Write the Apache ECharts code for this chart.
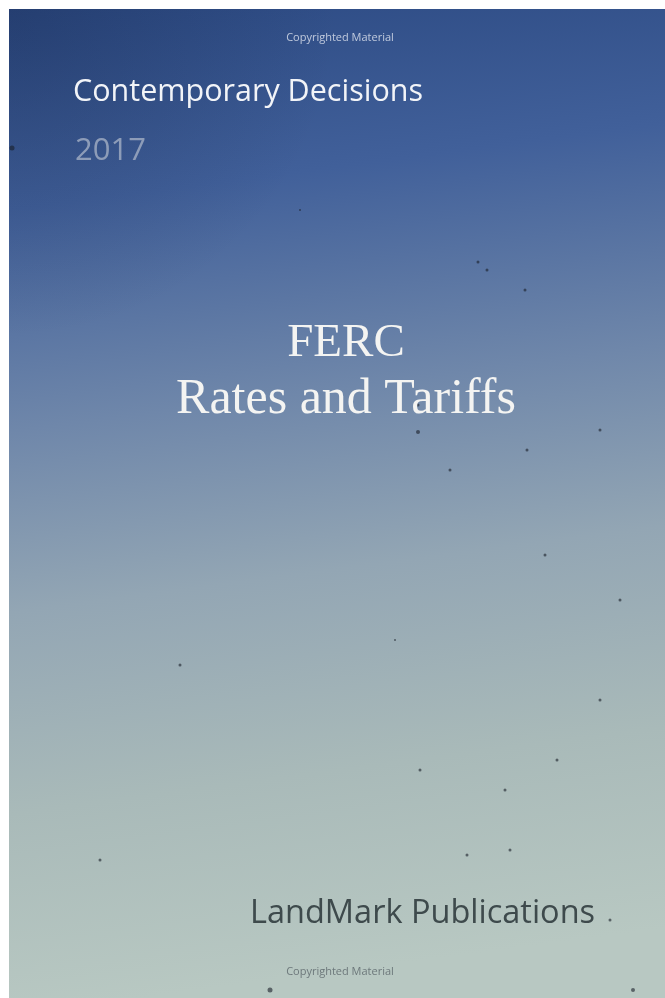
<!DOCTYPE html>
<html>
<head>
<meta charset="utf-8">
<script src="https://cdn.jsdelivr.net/npm/echarts@6/dist/echarts.min.js"></script>
<style>
  html, body { margin: 0; padding: 0; background: #fff; }
  #chart { width: 665px; height: 998px; }
</style>
</head>
<body>
<div id="chart"></div>
<script>
// cover texts
const seriesTitle = 'Contemporary Decisions'
const seriesYear = '2017'
const titleLines = ['FERC', 'Rates and Tariffs']
const publisher = 'LandMark Publications'
const watermark = 'Copyrighted Material'

// dark specks on the paper (x, y in page pixels, size)
const speckX = [418, 487, 525, 478, 600, 418, 450, 527, 620, 600, 557, 505, 467, 420, 270, 633, 510, 100, 180, 610, 12, 300, 545, 395]
const speckY = [432, 270, 290, 262, 430, 405, 470, 450, 600, 700, 760, 790, 855, 770, 990, 990, 850, 860, 665, 920, 148, 210, 555, 640]
const speckSize = [4, 3, 3, 3, 3, 3, 3, 3, 3, 3, 3, 3, 3, 3, 5, 4, 3, 3, 3, 3, 5, 2, 3, 2]

const chart = echarts.init(document.getElementById('chart'))

const option = {
  animation: false,
  grid: { left: 0, right: 0, top: 0, bottom: 0 },
  xAxis: { type: 'value', min: 0, max: 665, show: false },
  yAxis: { type: 'value', min: 0, max: 998, inverse: true, show: false },
  graphic: [
    {
      type: 'rect', z: -10,
      shape: { x: 9, y: 9, width: 656, height: 989 },
      style: {
        fill: new echarts.graphic.LinearGradient(0, 0, 0.2, 1, [
          { offset: 0, color: '#2c4a83' },
          { offset: 0.2, color: '#41609a' },
          { offset: 0.42, color: '#6f87aa' },
          { offset: 0.6, color: '#93a6b4' },
          { offset: 0.8, color: '#a9bab9' },
          { offset: 1, color: '#b8c8c2' }
        ])
      }
    },
    {
      type: 'rect', z: -9,
      shape: { x: 9, y: 9, width: 656, height: 989 },
      style: {
        fill: new echarts.graphic.RadialGradient(0, 0, 0.5, [
          { offset: 0, color: 'rgba(20,35,70,0.3)' },
          { offset: 1, color: 'rgba(20,35,70,0)' }
        ])
      }
    },
    {
      type: 'text', z: 100, x: 340, y: 32,
      style: { text: watermark, font: '11px "Open Sans"', fill: 'rgba(225,230,240,0.8)', align: 'center' }
    },
    {
      type: 'text', z: 100, x: 73, y: 77,
      style: { text: seriesTitle, font: '30.5px "Open Sans"', fill: '#f2f4f8' }
    },
    {
      type: 'text', z: 100, x: 75, y: 136,
      style: { text: seriesYear, font: '31px "Open Sans"', fill: '#8d9cb8' }
    },
    {
      type: 'text', z: 100, x: 346, y: 320,
      style: { text: titleLines[0], font: '47px "Liberation Serif"', fill: '#f4f4f2', align: 'center' }
    },
    {
      type: 'text', z: 100, x: 346, y: 375,
      style: { text: titleLines[1], font: '50px "Liberation Serif"', fill: '#f4f4f2', align: 'center' }
    },
    {
      type: 'text', z: 100, x: 250, y: 897,
      style: { text: publisher, font: '32.5px "Open Sans"', fill: '#3e4a4c' }
    },
    {
      type: 'text', z: 100, x: 340, y: 966,
      style: { text: watermark, font: '11px "Open Sans"', fill: 'rgba(90,100,105,0.8)', align: 'center' }
    }
  ],
  series: [{
    type: 'scatter',
    symbol: 'circle',
    silent: true,
    data: speckX.map((x, i) => [x, speckY[i], speckSize[i]]),
    symbolSize: d => d[2],
    itemStyle: { color: 'rgba(25,30,40,0.75)' }
  }]
}

chart.setOption(option)
</script>
</body>
</html>
